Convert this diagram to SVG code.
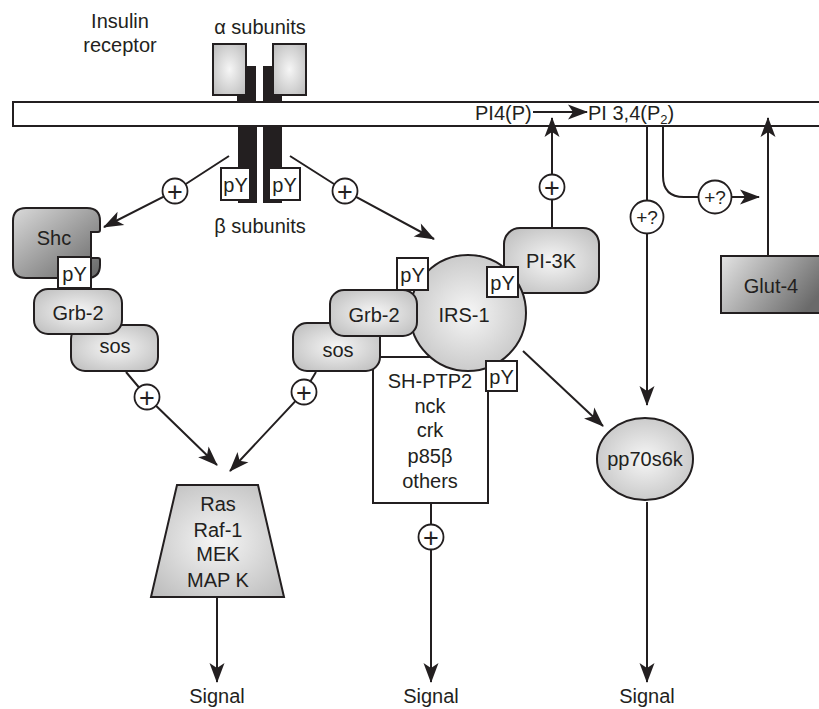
<svg xmlns="http://www.w3.org/2000/svg" width="819" height="709" viewBox="0 0 819 709">
<defs>
<radialGradient id="gl" cx="50%" cy="50%" r="70%"><stop offset="0" stop-color="#f6f6f6"/><stop offset="1" stop-color="#bababa"/></radialGradient>
<linearGradient id="gshc" x1="0" y1="0" x2="1" y2="1"><stop offset="0" stop-color="#dadada"/><stop offset="1" stop-color="#656565"/></linearGradient>
<linearGradient id="gglut" x1="0" y1="0" x2="1" y2="0.4"><stop offset="0" stop-color="#e4e4e4"/><stop offset="1" stop-color="#6a6a6a"/></linearGradient>
<marker id="ah" markerUnits="userSpaceOnUse" markerWidth="24" markerHeight="20" viewBox="-21 -10 24 20" refX="0" refY="0" orient="auto"><path d="M1,0 L-19,-7.5 L-14,0 L-19,7.5 Z" fill="#231f20"/></marker>
<style>
text{font-family:"Liberation Sans",Arial,Helvetica,sans-serif;font-size:20px;fill:#231f20;text-anchor:middle}
.ln{fill:none;stroke:#231f20;stroke-width:2}
.arr{marker-end:url(#ah)}
.box{stroke:#231f20;stroke-width:2;fill:url(#gl)}
.py{fill:#fff;stroke:#231f20;stroke-width:2}
.pc{fill:#fff;stroke:#231f20;stroke-width:1.8}
.blk{fill:#231f20}
.pl{font-size:27px}
.sm{font-size:19px}
.st{text-anchor:start}
</style>
</defs>
<rect width="819" height="709" fill="#fff"/>

<g id="labels">
<text x="120" y="28">Insulin</text>
<text x="120" y="52">receptor</text>
<text x="260" y="34">α subunits</text>
<text x="260" y="233">β subunits</text>
</g>

<g id="receptor">
<rect class="blk" x="237" y="66" width="19" height="37"/>
<rect class="blk" x="263" y="66" width="19" height="37"/>
<rect class="box" x="213" y="44" width="33" height="51"/>
<rect class="box" x="273" y="44" width="33" height="51"/>
<rect class="blk" x="238" y="125" width="19" height="78"/>
<rect class="blk" x="263" y="125" width="19" height="78"/>
<rect class="py" x="221" y="168" width="29" height="32"/><text x="235.5" y="192">pY</text>
<rect class="py" x="269" y="168" width="31" height="32"/><text x="284.5" y="192">pY</text>
</g>

<g id="membrane">
<rect x="13" y="102" width="830" height="24" fill="#fff" stroke="#231f20" stroke-width="2"/>
<text class="st" x="475" y="120">PI4(P)</text>
<text class="st" x="588" y="120">PI 3,4(P<tspan font-size="13" dy="4">2</tspan><tspan dy="-4">)</tspan></text>
</g>

<g id="connectors">
<path class="ln arr" d="M229,156 L175,191 L104,227"/>
<path class="ln arr" d="M290,156 L345,191 L434,239"/>
<path class="ln arr" d="M126,372 L147,397 L217,465"/>
<path class="ln arr" d="M316,372 L304,392 L230,471"/>
<path class="ln arr" d="M552,228 V118"/>
<path class="ln arr" d="M431,503 V682"/>
<path class="ln arr" d="M217,597 V682"/>
<path class="ln arr" d="M647,126 V405"/>
<path class="ln arr" d="M663,126 V176 Q663,197 684,197 H759"/>
<path class="ln arr" d="M768,256 V118"/>
<path class="ln arr" d="M523,351 L603,426"/>
<path class="ln arr" d="M647,502 V682"/>
<path class="ln arr" d="M533,112 H587"/>
<circle class="pc" cx="175" cy="191" r="12.5"/><text class="pl" x="175" y="200.5">+</text>
<circle class="pc" cx="345" cy="191" r="12.5"/><text class="pl" x="345" y="200.5">+</text>
<circle class="pc" cx="147" cy="397" r="12.5"/><text class="pl" x="147" y="406.5">+</text>
<circle class="pc" cx="304" cy="392" r="12.5"/><text class="pl" x="304" y="401.5">+</text>
<circle class="pc" cx="552" cy="187" r="12.5"/><text class="pl" x="552" y="196.5">+</text>
<circle class="pc" cx="431" cy="537" r="12.5"/><text class="pl" x="431" y="546.5">+</text>
<circle class="pc" cx="647" cy="217" r="16.5"/><text class="sm" x="647" y="224">+?</text>
<circle class="pc" cx="715" cy="197" r="16.5"/><text class="sm" x="715" y="204">+?</text>
</g>

<g id="shc">
<path d="M26,208 H87 Q100,208 100,221 V230 Q100,232 98,232 H91 V258 H98 Q100,258 100,260 V265 Q100,278 87,278 H26 Q13,278 13,265 V221 Q13,208 26,208 Z" fill="url(#gshc)" stroke="#231f20" stroke-width="2"/>
<text x="54" y="245">Shc</text>
</g>
<g id="sos-left"><rect class="box" x="71" y="325" width="87" height="46" rx="14"/><text x="115" y="353">sos</text></g>
<g id="grb2-left"><rect class="box" x="34" y="289" width="88" height="45" rx="14"/><text x="78" y="320">Grb-2</text></g>
<g id="py-shc"><rect class="py" x="58" y="257" width="33" height="31"/><text x="74.5" y="281">pY</text></g>

<g id="pi3k"><rect class="box" x="504" y="228" width="95" height="65" rx="16"/><text x="551" y="268">PI-3K</text></g>
<g id="shptp2">
<rect x="373" y="357" width="115" height="146" fill="#fff" stroke="#231f20" stroke-width="2"/>
<text x="430" y="388">SH-PTP2</text>
<text x="430" y="413">nck</text>
<text x="430" y="437">crk</text>
<text x="430" y="463">p85β</text>
<text x="430" y="488">others</text>
</g>
<g id="sos-right"><rect class="box" x="293" y="323" width="87" height="48" rx="14"/><text x="338" y="357">sos</text></g>
<g id="irs1"><circle class="box" cx="468" cy="313" r="58"/><text x="464" y="322">IRS-1</text></g>
<g id="grb2-right"><rect class="box" x="330" y="290" width="87" height="46" rx="14"/><text x="374" y="322">Grb-2</text></g>
<g id="py-irs">
<rect class="py" x="397" y="258" width="31" height="32"/><text x="412.5" y="282">pY</text>
<rect class="py" x="487" y="267" width="31" height="30"/><text x="502.5" y="290">pY</text>
<rect class="py" x="486" y="361" width="31" height="30"/><text x="501.5" y="384">pY</text>
</g>

<g id="ras">
<polygon points="177,485 258,485 284,597 151,597" fill="url(#gl)" stroke="#231f20" stroke-width="2"/>
<text x="218" y="511">Ras</text>
<text x="218" y="537">Raf-1</text>
<text x="218" y="561">MEK</text>
<text x="218" y="587">MAP K</text>
</g>

<g id="pp70s6k"><ellipse cx="645" cy="459" rx="48" ry="41" class="box"/><text x="645" y="466">pp70s6k</text></g>

<g id="glut4"><rect x="721" y="256" width="110" height="57" fill="url(#gglut)" stroke="#231f20" stroke-width="2"/><text x="771" y="293">Glut-4</text></g>

<g id="signals">
<text x="217" y="703">Signal</text>
<text x="431" y="703">Signal</text>
<text x="647" y="703">Signal</text>
</g>
</svg>
